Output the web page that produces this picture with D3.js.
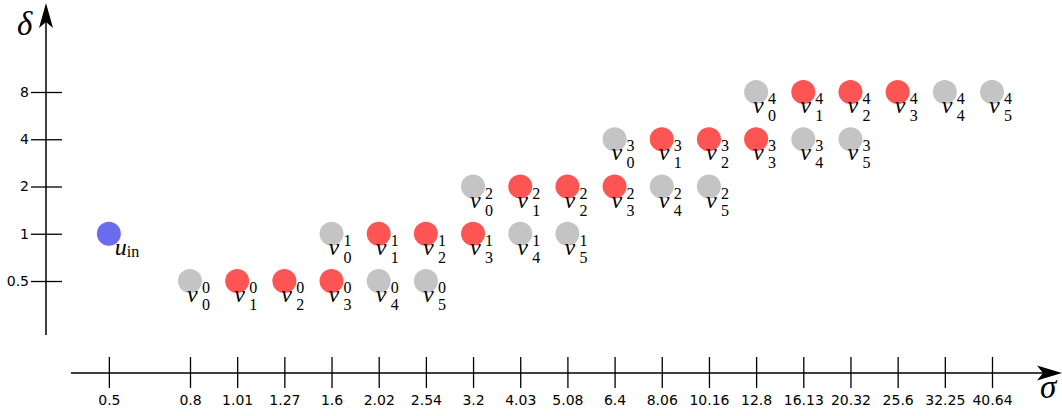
<!DOCTYPE html>
<html>
<head>
<meta charset="utf-8">
<script src="https://cdn.jsdelivr.net/npm/d3@7"></script>
<style>
  html, body { margin: 0; padding: 0; background: #fff; }
  svg { display: block; }
</style>
</head>
<body>
<svg id="chart" width="1062" height="416"></svg>
<script>
// sigma tick labels along the horizontal axis
const sigmaTicks = ["0.5", "0.8", "1.01", "1.27", "1.6", "2.02", "2.54", "3.2", "4.03",
  "5.08", "6.4", "8.06", "10.16", "12.8", "16.13", "20.32", "25.6", "32.25", "40.64"];
// delta levels on the vertical (log2) axis
const deltaTicks = [0.5, 1, 2, 4, 8];

// input node
const inputNode = { sigma: "0.5", delta: 1 };

// nodes v_j^k : one row per level k, sigma of each node j
const levelDelta = [0.5, 1, 2, 4, 8];
const levelSigma = [
  ["0.8", "1.01", "1.27", "1.6", "2.02", "2.54"],
  ["1.6", "2.02", "2.54", "3.2", "4.03", "5.08"],
  ["3.2", "4.03", "5.08", "6.4", "8.06", "10.16"],
  ["6.4", "8.06", "10.16", "12.8", "16.13", "20.32"],
  ["12.8", "16.13", "20.32", "25.6", "32.25", "40.64"]
];
// highlighted nodes within each level
const levelActive = [
  [false, true, true, true, false, false],
  [false, true, true, true, false, false],
  [false, true, true, true, false, false],
  [false, true, true, true, false, false],
  [false, true, true, true, false, false]
];

const colors = { input: "#6b6bee", active: "#fd5454", idle: "#c4c4c4" };

const svg = d3.select("#chart");

// horizontal position: evenly spaced slots, with a wider gap after the first one
const firstGap = 1.72;
const slotOf = s => {
  const i = sigmaTicks.indexOf(s);
  return i === 0 ? -firstGap : i - 1;
};
const x = d3.scaleLinear().domain([0, sigmaTicks.length - 2]).range([190, 992]);
const y = d3.scaleLog().base(2).domain([0.5, 8]).range([281, 92]);
const xPos = s => x(slotOf(s));

const axisColor = "#000";

// vertical axis
const yAxisX = 46;
svg.append("line")
  .attr("x1", yAxisX).attr("x2", yAxisX)
  .attr("y1", 335).attr("y2", 20)
  .attr("stroke", axisColor).attr("stroke-width", 1.5);
svg.append("path")
  .attr("d", "M0,0 L7,25 L0,19 L-7,25 Z")
  .attr("transform", `translate(${yAxisX},3)`)
  .attr("fill", axisColor);

const yAxis = d3.axisLeft(y)
  .tickValues(deltaTicks)
  .tickFormat(d3.format("~g"))
  .tickSize(0)
  .tickPadding(0);
const yg = svg.append("g").attr("transform", `translate(${yAxisX},0)`).call(yAxis);
yg.select(".domain").remove();
yg.selectAll(".tick line")
  .attr("x1", -15).attr("x2", 16)
  .attr("stroke", axisColor).attr("stroke-width", 1.3);
yg.selectAll(".tick text")
  .attr("x", -17)
  .attr("font-family", "DejaVu Sans")
  .attr("font-size", 14)
  .attr("fill", "#000");

// horizontal axis
const xAxisY = 373;
svg.append("line")
  .attr("x1", 71).attr("x2", 1045)
  .attr("y1", xAxisY).attr("y2", xAxisY)
  .attr("stroke", axisColor).attr("stroke-width", 1.5);
svg.append("path")
  .attr("d", "M0,0 L-25,-7.5 L-19,0 L-25,7.5 Z")
  .attr("transform", `translate(1062,${xAxisY})`)
  .attr("fill", axisColor);

const xAxis = d3.axisBottom(x)
  .tickValues(sigmaTicks.map(slotOf))
  .tickFormat((d, i) => sigmaTicks[i])
  .tickSize(0)
  .tickPadding(0);
const xg = svg.append("g").attr("transform", `translate(0,${xAxisY})`).call(xAxis);
xg.select(".domain").remove();
xg.selectAll(".tick line")
  .attr("y1", -16).attr("y2", 15)
  .attr("stroke", axisColor).attr("stroke-width", 1.3);
xg.selectAll(".tick text")
  .attr("y", 22)
  .attr("dy", "0.71em")
  .attr("font-family", "DejaVu Sans")
  .attr("font-size", 14)
  .attr("fill", "#000");

// axis names
const mathFont = "Liberation Serif";
svg.append("text")
  .attr("x", 17).attr("y", 35)
  .attr("font-family", mathFont).attr("font-style", "italic")
  .attr("font-size", 33)
  .text("δ");
svg.append("text")
  .attr("x", 1040).attr("y", 398)
  .attr("font-family", mathFont).attr("font-style", "italic")
  .attr("font-size", 33)
  .text("σ");

// flatten nodes
const nodes = [];
levelSigma.forEach((row, k) => {
  row.forEach((s, j) => {
    nodes.push({ sigma: s, delta: levelDelta[k], k, j, active: levelActive[k][j] });
  });
});

const r = 12;

// input node
svg.append("circle")
  .attr("cx", xPos(inputNode.sigma)).attr("cy", y(inputNode.delta))
  .attr("r", r).attr("fill", colors.input);
const ut = svg.append("text")
  .attr("x", xPos(inputNode.sigma) + 6).attr("y", y(inputNode.delta) + 21)
  .attr("font-family", mathFont);
ut.append("tspan").attr("font-style", "italic").attr("font-size", 24).text("u");
ut.append("tspan").attr("font-size", 16).attr("dy", 2).text("in");

// level nodes
const g = svg.append("g");
g.selectAll("circle.node")
  .data(nodes)
  .join("circle")
  .attr("class", "node")
  .attr("cx", d => xPos(d.sigma))
  .attr("cy", d => y(d.delta))
  .attr("r", r)
  .attr("fill", d => d.active ? colors.active : colors.idle);

const labels = g.selectAll("g.lbl")
  .data(nodes)
  .join("g")
  .attr("class", "lbl")
  .attr("transform", d => `translate(${xPos(d.sigma)},${y(d.delta)})`);
labels.append("text")
  .attr("x", -3).attr("y", 21)
  .attr("font-family", mathFont).attr("font-style", "italic")
  .attr("font-size", 24)
  .text("v");
labels.append("text")
  .attr("x", 12).attr("y", 12)
  .attr("font-family", mathFont)
  .attr("font-size", 16)
  .text(d => d.k);
labels.append("text")
  .attr("x", 12).attr("y", 29)
  .attr("font-family", mathFont)
  .attr("font-size", 16)
  .text(d => d.j);
</script>
</body>
</html>
